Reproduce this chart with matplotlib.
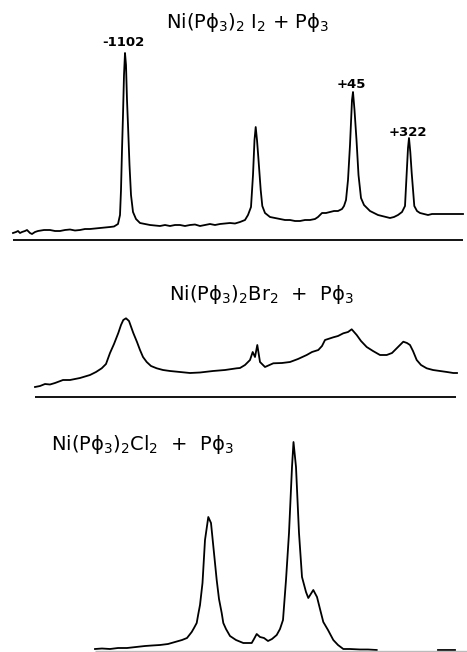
import matplotlib.pyplot as plt

# sweep position (same scale for all three traces) and signal height

# Ni(Pphi3)2I2 + Pphi3
iodo_x = [13, 16, 18, 20, 22, 25, 27, 30, 32, 35, 38, 44, 50, 55, 60, 65, 70, 75, 80, 85, 90,
          95, 100, 105, 110, 114, 118, 120, 121, 122, 123, 124, 125, 126, 127, 128, 129.5, 131,
          133, 136, 140, 145, 150, 155, 160, 165, 170, 175, 180, 185, 190, 195, 200, 205, 210,
          215, 220, 225, 230, 235, 240, 245, 248, 251, 253, 254.5, 255.7, 257, 258.3, 260.7,
          262.3, 265, 270, 275, 280, 285, 290, 295, 300, 305, 310, 315, 318, 322, 326, 330, 334,
          338, 342, 344, 346, 348, 350, 352, 353, 354.5, 356.5, 358.5, 361, 364, 367, 370, 374,
          378, 382, 386, 390, 394, 398, 402, 405, 406.7, 408, 409, 410.3, 411.7, 414.3, 417, 420,
          424, 428, 432, 463]
iodo_y = [7, 8, 9, 7, 8, 9, 10, 7, 6, 8, 9, 10, 10, 9, 9, 10, 10.5, 9.5, 10, 11, 11,
          11.5, 12, 12.5, 13, 13.5, 16, 25, 50, 90, 125, 165, 187, 175, 140, 115, 75, 45,
          28, 21, 17, 16, 15, 14.5, 14, 15, 14, 15, 15, 14, 15, 15.5, 14, 15, 16,
          15, 16, 16.5, 17, 16.5, 18, 20, 25, 33, 65, 100, 113, 100, 83, 50,
          34, 27, 23, 22, 21, 20, 20, 19, 19, 20, 20, 21, 23, 27, 27, 28, 29,
          29, 31, 34, 40, 60, 95, 140, 148, 130, 100, 65, 42, 35, 32, 29, 27,
          25, 24, 23, 22, 23, 25, 28, 34, 67, 92, 102, 88, 67, 34, 29, 27,
          26, 25, 26, 26]

# Ni(Pphi3)2Br2 + Pphi3
bromo_x = [35, 40, 45, 50, 55, 63, 70, 80, 90, 96, 101.7, 106, 110, 114, 118.3, 121, 123.3, 126,
           129, 133.3, 137, 140, 143, 146.7, 151, 156.7, 163, 170, 180, 190, 200, 213, 225,
           236.7, 240, 245, 250, 252.7, 255, 257.3, 260, 265, 273.3, 282, 290, 298, 306.7,
           312, 318.3, 322, 325, 333.3, 338, 343.3, 348, 351.7, 356.7, 361, 366.7, 373, 380,
           386.7, 392, 396.7, 400, 403.3, 407, 410, 413, 416.7, 421, 426.7, 433, 440, 447,
           453.3, 457]
bromo_y = [10, 11, 13, 12.5, 14, 17, 17, 19, 22, 25, 28.7, 33, 44, 53, 64, 72, 77, 78.7,
           76, 64, 55, 47, 40, 35, 31, 28.7, 27, 26, 25, 24, 24.5, 26, 27,
           28.7, 29, 32, 37, 45, 40, 52, 35, 30, 33.7, 34, 35, 38, 42,
           45, 47, 51, 57, 59.7, 61, 63.7, 65, 67.7, 62, 56, 50, 46, 42,
           42, 44, 48.7, 52, 55.3, 54, 52, 46, 37, 32, 28.7, 27, 26, 25,
           24, 24]

# Ni(Pphi3)2Cl2 + Pphi3
chloro_x = [95, 102, 110, 118, 127, 136, 145, 152, 160, 168, 175, 182, 187, 191.7, 194, 196.7,
            198.3, 200, 202.5, 205, 208.3, 211, 214, 216.7, 219, 221.7, 223.3, 226, 230, 236,
            243.3, 251.7, 254, 256.7, 260, 264, 268, 272, 276.7, 280, 283, 286, 289, 292,
            293.5, 296, 299, 302, 306, 308.3, 313.3, 317, 320, 323.3, 328, 333.3, 338, 343.3,
            350, 360, 368, 376.7]
chloro_y = [2, 2.5, 2, 3, 3, 4, 5, 5.5, 6, 7, 9, 11, 13, 19, 23, 28,
            37, 46, 68, 111, 134, 128, 98, 71, 52, 38, 28, 22, 15, 11,
            8, 8, 12, 17, 14, 13, 10, 12, 16, 22, 31, 71, 118, 184,
            209, 184, 118, 74, 59, 53, 61, 54, 42, 29, 21, 11, 6, 2,
            2, 1.5, 1.5, 1]
chloro_tail_x = [438, 455]
chloro_tail_y = [1.5, 1.5]

# reference line under each trace (start, end)
iodo_axis = (13, 463)
bromo_axis = (35, 456)
chloro_axis = (95, 467)

W, H = 467, 652
fig = plt.figure(figsize=(W / 100, H / 100), dpi=100)


def panel(top, bottom, base):
    ax = fig.add_axes([0, 1 - bottom / H, 1, (bottom - top) / H])
    ax.set_xlim(0, W)
    ax.set_ylim(base - bottom, base - top)
    ax.axis('off')
    return ax


title_kw = dict(ha='center', va='center', fontsize=14)
label_kw = dict(ha='center', va='center', fontsize=9.5, fontweight='bold')

ax1 = panel(0, 245, 240)
ax1.plot(iodo_x, iodo_y, color='black', lw=1.3)
ax1.hlines(0, *iodo_axis, color='black', lw=1.3)
ax1.text(248, 218, r'Ni(Pϕ$_3$)$_2$ I$_2$ + Pϕ$_3$', **title_kw)
ax1.text(123, 197, '-1102', **label_kw)
ax1.text(351, 155, '+45', **label_kw)
ax1.text(408, 108, '+322', **label_kw)

ax2 = panel(250, 402, 397)
ax2.plot(bromo_x, bromo_y, color='black', lw=1.3)
ax2.hlines(0, *bromo_axis, color='black', lw=1.3)
ax2.text(262, 103, r'Ni(Pϕ$_3$)$_2$Br$_2$  +  Pϕ$_3$', **title_kw)

ax3 = panel(431, 652, 651)
ax3.plot(chloro_x, chloro_y, color='black', lw=1.3)
ax3.plot(chloro_tail_x, chloro_tail_y, color='black', lw=1.3)
ax3.hlines(0, *chloro_axis, color='#bbbbbb', lw=1.0)
ax3.text(142, 206, r'Ni(Pϕ$_3$)$_2$Cl$_2$  +  Pϕ$_3$', **title_kw)

plt.savefig('out.png', dpi=100)
